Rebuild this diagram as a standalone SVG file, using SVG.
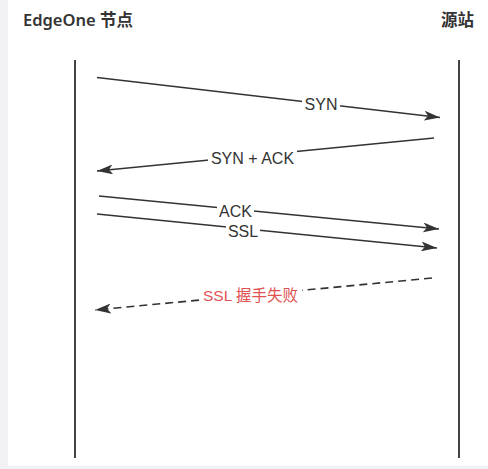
<svg xmlns="http://www.w3.org/2000/svg" width="488" height="469" viewBox="0 0 488 469">
  <style>
    .title { font-family: "Noto Sans", "Noto Sans CJK SC", sans-serif; font-size: 16.5px; font-weight: 600; fill: #333333; }
    .lbl { font-family: "Liberation Sans", "Noto Sans CJK SC", sans-serif; font-size: 16px; fill: #333333; text-anchor: middle; dominant-baseline: central; }
    .err { fill: #e05252; font-size: 15.5px; }
    .life { stroke: #444444; stroke-width: 2; fill: none; }
    .msg { stroke: #333333; stroke-width: 1.6; fill: none; }
    .dash { stroke-dasharray: 8 5; }
    .bg { fill: #ffffff; }
  </style>
  <defs>
    <marker id="arrow" viewBox="0 0 16 10" refX="16" refY="5" markerWidth="16" markerHeight="10" markerUnits="userSpaceOnUse" orient="auto">
      <path d="M0,0 L16,5 L0,10 L4,5 Z" fill="#333333"/>
    </marker>
  </defs>

  <!-- page backdrop -->
  <rect x="0" y="0" width="488" height="469" fill="#f2f2f5"/>
  <rect x="8" y="0" width="480" height="466" fill="#ffffff"/>

  <!-- participants -->
  <g id="edgeone">
    <text class="title" x="23" y="26">EdgeOne 节点</text>
    <line class="life" x1="75" y1="60" x2="75" y2="458"/>
  </g>
  <g id="origin">
    <text class="title" x="441" y="26">源站</text>
    <line class="life" x1="459" y1="60" x2="459" y2="458"/>
  </g>

  <!-- messages -->
  <g id="connectors">
    <line class="msg" x1="97" y1="77.5" x2="440" y2="117.5" marker-end="url(#arrow)"/>
    <rect class="bg" x="302" y="95" width="38" height="19"/>
    <text class="lbl" x="321" y="104.5">SYN</text>

    <line class="msg" x1="434" y1="138" x2="97" y2="171" marker-end="url(#arrow)"/>
    <rect class="bg" x="208" y="149" width="89" height="18"/>
    <text class="lbl" x="252.5" y="158">SYN + ACK</text>

    <line class="msg" x1="99" y1="196" x2="439" y2="229" marker-end="url(#arrow)"/>
    <line class="msg" x1="97" y1="214" x2="437" y2="248" marker-end="url(#arrow)"/>
    <rect class="bg" x="217" y="203" width="37" height="17"/>
    <text class="lbl" x="235.5" y="211.5">ACK</text>
    <rect class="bg" x="226" y="222.5" width="34" height="17"/>
    <text class="lbl" x="243" y="231">SSL</text>

    <line class="msg dash" x1="432" y1="278" x2="95" y2="310" marker-end="url(#arrow)"/>
    <rect class="bg" x="199" y="285" width="103" height="20"/>
    <text class="lbl err" x="250.5" y="295">SSL 握手失败</text>
  </g>
</svg>
